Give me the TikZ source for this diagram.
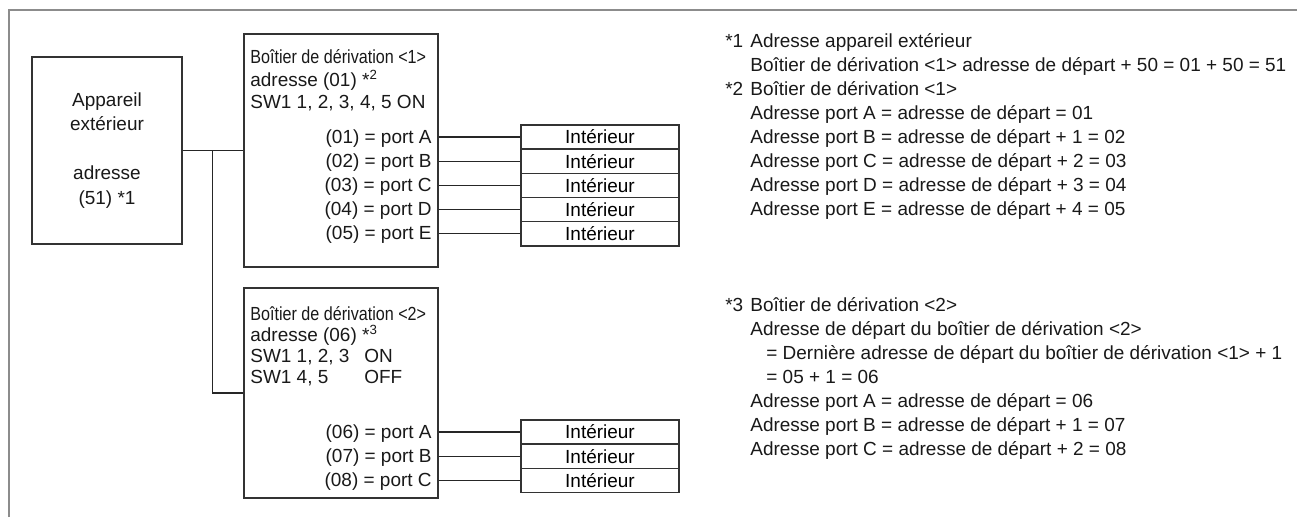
\documentclass[tikz,border=0pt]{standalone}
\usepackage{fontspec}
\setmainfont{Liberation Sans}
\newfontfamily\narrowsf[FakeStretch=0.85]{Liberation Sans}
\usetikzlibrary{calc}
\tikzset{
  frame/.style={draw=black!45, line width=1.1pt},
  wire/.style={draw=black!85, line width=0.6pt},
  unitbox/.style={draw=black!80, line width=0.7pt, inner sep=0pt},
  indoor/.style={unitbox, minimum width=31.6mm, minimum height=4.84mm},
  lbl/.style={inner sep=0pt, anchor=west, text=black!90, text height=0.75em, text depth=0.05em},
  port/.style={lbl, anchor=east},
  hdr/.style={lbl, font=\narrowsf\fontsize{10.8pt}{12pt}\selectfont},
}
\newcommand{\nline}[4]{\node[lbl] (#1) at (#2,#3) {#4};}

\begin{document}
\begin{tikzpicture}[x=0.2mm, y=-0.2mm, font=\fontsize{10.8pt}{13.9pt}\selectfont]
  \useasboundingbox (0,0) rectangle (1297,517);
  \draw[frame] (9,517) -- (9,10) -- (1297,10);

  % outdoor unit and branch boxes
  \node[unitbox, minimum width=30mm, minimum height=37.4mm, align=center, text=black!90]
    (app) at (107,150.5) {Appareil\\extérieur\\[13.9pt]adresse\\(51) *1};
  \node[unitbox, minimum width=38.8mm, minimum height=46.6mm] (bx1) at (341,150.5) {};
  \node[unitbox, minimum width=38.8mm, minimum height=42mm] (bx2) at (341,393) {};

  \node[hdr] (hd1) at (250,57) {Boîtier de dérivation <1>};
  \node[lbl] (ad1) at (250,80) {adresse (01) *\textsuperscript{2}};
  \node[lbl] (sw1) at (250,102) {SW1 1, 2, 3, 4, 5 ON};

  \node[hdr] (hd2) at (250,314) {Boîtier de dérivation <2>};
  \node[lbl] (ad2) at (250,335) {adresse (06) *\textsuperscript{3}};
  \node[lbl] (sw2a) at (250,356) {SW1 1, 2, 3};
  \node[lbl] (on2) at (364,356) {ON};
  \node[lbl] (sw2b) at (250,377) {SW1 4, 5};
  \node[lbl] (off2) at (364,377) {OFF};

  % wiring
  \coordinate (jn) at ($(app.east)!0.485!(bx1.west)$);
  \draw[wire] (app.east) -- (bx1.west);
  \draw[wire] (jn) |- (bx2.west);

  \foreach \n/\p [count=\i from 0] in {01/A,02/B,03/C,04/D,05/E}{
    \node[indoor] (i1\p) at (600,{137+24.2*\i}) {Intérieur};
    \node[port] (p1\p) at (432,{137+24.2*\i}) {(\n) = port \p};
    \draw[wire] (bx1.east |- i1\p.west) -- (i1\p.west);
  }
  \foreach \n/\p [count=\i from 0] in {06/A,07/B,08/C}{
    \node[indoor] (i2\p) at (600,{432+24.2*\i}) {Intérieur};
    \node[port] (p2\p) at (432,{432+24.2*\i}) {(\n) = port \p};
    \draw[wire] (bx2.east |- i2\p.west) -- (i2\p.west);
  }

  % notes
  \nline{k1}{725}{41}{*1}
  \nline{t1}{750}{41}{Adresse appareil extérieur}
  \nline{t2}{750}{65}{Boîtier de dérivation <1> adresse de départ + 50 = 01 + 50 = 51}
  \nline{k2}{725}{89}{*2}
  \nline{t3}{750}{89}{Boîtier de dérivation <1>}
  \nline{t4}{750}{113}{Adresse port A = adresse de départ = 01}
  \nline{t5}{750}{137}{Adresse port B = adresse de départ + 1 = 02}
  \nline{t6}{750}{161}{Adresse port C = adresse de départ + 2 = 03}
  \nline{t7}{750}{185}{Adresse port D = adresse de départ + 3 = 04}
  \nline{t8}{750}{209}{Adresse port E = adresse de départ + 4 = 05}

  \nline{k3}{725}{305}{*3}
  \nline{u1}{750}{305}{Boîtier de dérivation <2>}
  \nline{u2}{750}{329}{Adresse de départ du boîtier de dérivation <2>}
  \nline{u3}{766}{353}{= Dernière adresse de départ du boîtier de dérivation <1> + 1}
  \nline{u4}{766}{377}{= 05 + 1 = 06}
  \nline{u5}{750}{401}{Adresse port A = adresse de départ = 06}
  \nline{u6}{750}{425}{Adresse port B = adresse de départ + 1 = 07}
  \nline{u7}{750}{449}{Adresse port C = adresse de départ + 2 = 08}
\end{tikzpicture}
\end{document}
